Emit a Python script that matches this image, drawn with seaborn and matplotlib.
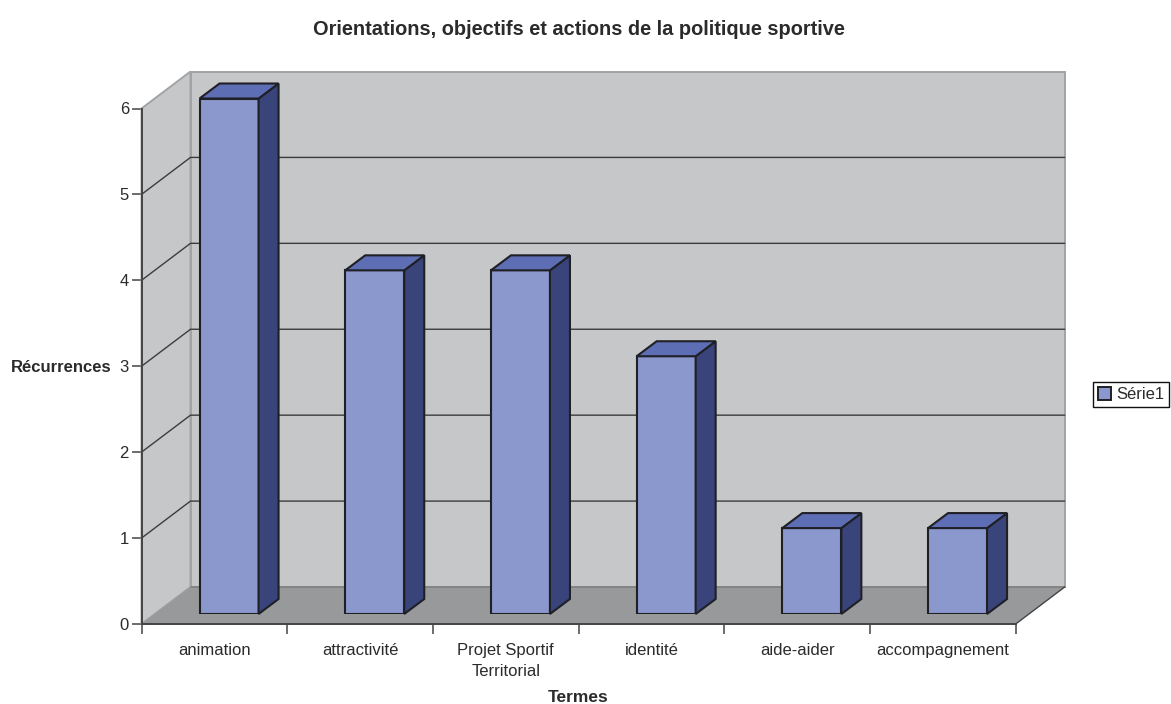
import matplotlib
matplotlib.use('Agg')
import matplotlib.pyplot as plt
import seaborn as sns
from matplotlib.patches import Polygon, Patch
from matplotlib.transforms import IdentityTransform

terms = ['animation', 'attractivité', 'Projet Sportif\nTerritorial', 'identité', 'aide-aider', 'accompagnement']
recurrences = [6, 4, 4, 3, 1, 1]
y_ticks = [0, 1, 2, 3, 4, 5, 6]

W, H = 1171, 704
# pixel box of the front plane of the chart
left, right, top, bottom = 141.5, 1015.7, 108.5, 624
wall_dx, wall_dy = 49, 37      # depth of the chart box
bar_dx, bar_dy = 20, 15        # depth of a bar
shift_x, shift_y = 14.7, 10    # bars stand a little inside the box
text_color = '#2b2b2b'

sns.set_style('white')
plt.rcParams['font.family'] = ['Liberation Sans', 'DejaVu Sans']

fig = plt.figure(figsize=(W / 100, H / 100), dpi=100)
fig.patch.set_facecolor('white')


def box(x0, x1, y0, y1):
    return [x0 / W, 1 - y1 / H, (x1 - x0) / W, (y1 - y0) / H]


ax = fig.add_axes(box(left, right, top, bottom))
ax.patch.set_visible(False)
ax.set_xlim(-0.5, 5.5)
ax.set_ylim(0, 6)

# bars go on their own axes, shifted from the front plane
ax_bars = fig.add_axes(box(left + shift_x, right + shift_x, top - shift_y, bottom - shift_y))
sns.barplot(x=list(range(6)), y=recurrences, color='#8b98cd', saturation=1, width=0.405,
            edgecolor='#1f1f26', linewidth=1.5, ax=ax_bars, native_scale=True)
ax_bars.set_xlim(-0.5, 5.5)
ax_bars.set_ylim(0, 6)
ax_bars.axis('off')

# Walls and floor
px = IdentityTransform()


def to_px(x, y):
    return ax.transData.transform((x, y))


def wall(points, color, edge='none', lw=0, a=ax, z=1):
    a.add_patch(Polygon(points, closed=True, facecolor=color, edgecolor=edge, linewidth=lw,
                        transform=px, clip_on=False, zorder=z))


x0, x1 = -0.5, 5.5
bl, br = to_px(x0, 0), to_px(x1, 0)
tl, tr = to_px(x0, 6), to_px(x1, 6)
d = (wall_dx, wall_dy)
wall([bl + d, br + d, tr + d, tl + d], '#c6c7c9', '#a2a3a5', 1.4)
wall([bl, bl + d, tl + d, tl], '#c6c7c9', '#a2a3a5', 1.4)
wall([bl, br, br + d, bl + d], '#98999b', z=1.5)

# Gridlines on the back and side walls
for v in y_ticks[1:-1]:
    a, b = to_px(x0, v), to_px(x1, v)
    ax.plot([a[0], a[0] + wall_dx, b[0] + wall_dx], [a[1], a[1] + wall_dy, b[1] + wall_dy],
            color='#3c3c3e', lw=1.0, transform=px, clip_on=False, zorder=2)
ax.plot([bl[0] + wall_dx, br[0] + wall_dx], [bl[1] + wall_dy, br[1] + wall_dy], color='#7c7d7f', lw=1.1,
        transform=px, clip_on=False, zorder=2)
ax.plot([br[0], br[0] + wall_dx], [br[1], br[1] + wall_dy], color='#444444', lw=1,
        transform=px, clip_on=False, zorder=2)

# Axis lines and ticks
for side in ['top', 'right']:
    ax.spines[side].set_visible(False)
for side in ['left', 'bottom']:
    ax.spines[side].set_color('#444444')
    ax.spines[side].set_linewidth(1.4)
    ax.spines[side].set_zorder(3)
ax.set_yticks(y_ticks)
ax.set_xticks(range(6))
ax.set_xticklabels(terms, fontsize=12, color=text_color, linespacing=1.45)
ax.set_xticks([v - 0.5 for v in range(7)], minor=True)
ax.tick_params(axis='x', which='major', length=0, pad=14, bottom=True)
ax.tick_params(axis='x', which='minor', length=7, width=1.1, color='#444444', bottom=True)
ax.tick_params(axis='y', length=7, width=1.1, color='#444444', labelsize=12, pad=2, left=True, labelcolor=text_color)

# 3D sides and tops of the bars
for bar in ax_bars.patches:
    bx, by, bw, bh = bar.get_x(), bar.get_y(), bar.get_width(), bar.get_height()
    p10 = ax_bars.transData.transform((bx + bw, by))
    p11 = ax_bars.transData.transform((bx + bw, by + bh))
    p01 = ax_bars.transData.transform((bx, by + bh))
    e = (bar_dx, bar_dy)
    wall([p10, p10 + e, p11 + e, p11], '#39447a', '#1f1f26', 1.5, ax_bars, 1)
    wall([p01, p11, p11 + e, p01 + e], '#5e6eb4', '#1f1f26', 1.5, ax_bars, 1)

# Text
ax.set_title('Orientations, objectifs et actions de la politique sportive', fontsize=14.45,
             fontweight='bold', color=text_color, pad=53)
ax.set_xlabel('Termes', fontsize=12.5, fontweight='bold', color=text_color, labelpad=8)
ax.set_ylabel('Récurrences', fontsize=12, fontweight='bold', color=text_color, rotation=0,
              ha='right', va='center')
ax.yaxis.set_label_coords((112 - left) / (right - left), (bottom - 367) / (bottom - top))

leg = ax.legend(handles=[Patch(facecolor='#8b98cd', edgecolor='#1f1f26', linewidth=1.4, label='Série1')],
                loc='upper right', bbox_to_anchor=(1169 / W, 1 - 382 / H), bbox_transform=fig.transFigure,
                borderaxespad=0, fontsize=12, fancybox=False, framealpha=1, edgecolor='#111111',
                labelcolor=text_color, handlelength=0.75, handleheight=0.8, handletextpad=0.3, borderpad=0.3)
leg.get_frame().set_linewidth(1)

fig.savefig('out.png', dpi=100)
